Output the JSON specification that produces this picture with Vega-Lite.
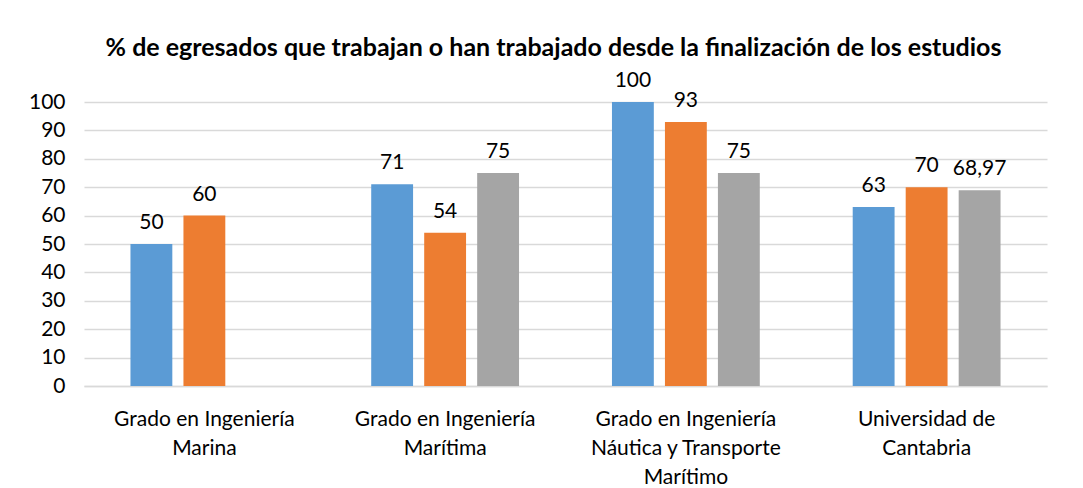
{
  "$schema": "https://vega.github.io/schema/vega-lite/v6.json",
  "width": 963,
  "height": 284,
  "autosize": {"type": "none"},
  "padding": {"left": 84, "top": 102, "right": 36, "bottom": 102},
  "background": "white",
  "title": {
    "text": "% de egresados que trabajan o han trabajado desde la finalización de los estudios",
    "font": "Lato",
    "fontSize": 25,
    "fontWeight": "bold",
    "color": "#000000",
    "anchor": "middle",
    "frame": "group",
    "dx": -12,
    "offset": 9
  },
  "config": {
    "locale": {
      "number": {"decimal": ",", "thousands": ".", "grouping": [3], "currency": ["", " €"]}
    },
    "view": {"stroke": null},
    "font": "Lato"
  },
  "data": {
    "values": [
      {"grado": "Grado en Ingeniería Marina", "serie": "Serie 1", "valor": 50},
      {"grado": "Grado en Ingeniería Marina", "serie": "Serie 2", "valor": 60},
      {"grado": "Grado en Ingeniería Marítima", "serie": "Serie 1", "valor": 71},
      {"grado": "Grado en Ingeniería Marítima", "serie": "Serie 2", "valor": 54},
      {"grado": "Grado en Ingeniería Marítima", "serie": "Serie 3", "valor": 75},
      {"grado": "Grado en Ingeniería Náutica y Transporte Marítimo", "serie": "Serie 1", "valor": 100},
      {"grado": "Grado en Ingeniería Náutica y Transporte Marítimo", "serie": "Serie 2", "valor": 93},
      {"grado": "Grado en Ingeniería Náutica y Transporte Marítimo", "serie": "Serie 3", "valor": 75},
      {"grado": "Universidad de Cantabria", "serie": "Serie 1", "valor": 63},
      {"grado": "Universidad de Cantabria", "serie": "Serie 2", "valor": 70},
      {"grado": "Universidad de Cantabria", "serie": "Serie 3", "valor": 68.97}
    ]
  },
  "encoding": {
    "x": {
      "field": "grado",
      "type": "nominal",
      "sort": null,
      "scale": {"paddingInner": 0.386, "paddingOuter": 0.193},
      "axis": {
        "title": null,
        "labelAngle": 0,
        "labelExpr": "datum.label == 'Grado en Ingeniería Marina' ? ['Grado en Ingeniería', 'Marina'] : datum.label == 'Grado en Ingeniería Marítima' ? ['Grado en Ingeniería', 'Marítima'] : datum.label == 'Grado en Ingeniería Náutica y Transporte Marítimo' ? ['Grado en Ingeniería', 'Náutica y Transporte', 'Marítimo'] : ['Universidad de', 'Cantabria']",
        "labelFontSize": 21,
        "labelColor": "#000000",
        "labelLineHeight": 29,
        "labelPadding": 22,
        "labelBaseline": "top",
        "ticks": false,
        "domainColor": "#D9D9D9",
        "domainWidth": 1.5,
        "labelLimit": 300
      }
    },
    "xOffset": {
      "field": "serie",
      "type": "nominal",
      "scale": {"domain": ["Serie 1", "Serie 2", "Serie 3"], "paddingInner": 0.21}
    },
    "y": {
      "field": "valor",
      "type": "quantitative",
      "scale": {"domain": [0, 100], "nice": false},
      "axis": {
        "title": null,
        "values": [0, 10, 20, 30, 40, 50, 60, 70, 80, 90, 100],
        "labelFontSize": 21,
        "labelColor": "#000000",
        "labelPadding": 19,
        "ticks": false,
        "domain": false,
        "gridColor": "#D9D9D9",
        "gridWidth": 1.5
      }
    }
  },
  "layer": [
    {
      "mark": {"type": "bar"},
      "encoding": {
        "color": {
          "field": "serie",
          "type": "nominal",
          "scale": {"domain": ["Serie 1", "Serie 2", "Serie 3"], "range": ["#5B9BD5", "#ED7D31", "#A5A5A5"]},
          "legend": null
        }
      }
    },
    {
      "mark": {"type": "text", "baseline": "alphabetic", "dy": -15, "fontSize": 21, "color": "#000000"},
      "encoding": {
        "text": {"field": "valor", "type": "quantitative", "format": "~r"}
      }
    }
  ]
}
